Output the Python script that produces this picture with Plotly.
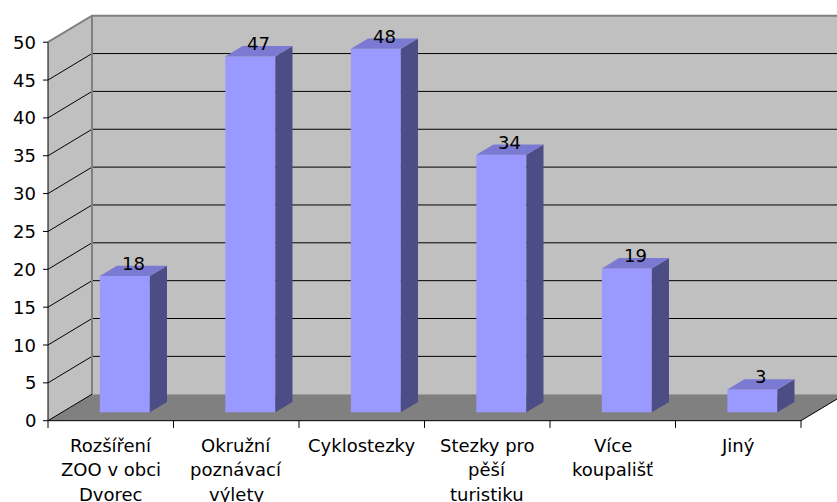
import plotly.graph_objects as go

# ---- data ----
categories = ["Rozšíření<br>ZOO v obci<br>Dvorec", "Okružní<br>poznávací<br>výlety", "Cyklostezky",
              "Stezky pro<br>pěší<br>turistiku", "Více<br>koupališť", "Jiný"]
values = [18, 47, 48, 34, 19, 3]
y_ticks = [0, 5, 10, 15, 20, 25, 30, 35, 40, 45, 50]
y_tick_labels = [str(t) for t in y_ticks]

# ---- pseudo-3D geometry (x in px, y in value units) ----
X0 = 48.0          # front-left corner of the floor
CAT_W = 125.5      # width of one category slot
DX = 44.0          # depth shift in x
DY = 3.5           # depth shift in value units
BAR_W = 50.0
D0, D1 = 0.32, 0.71
YMAX = 50
N = len(categories)
X_END = X0 + CAT_W * N
PX_PER_UNIT = 7.57
LINE_GAP = 24.5 / PX_PER_UNIT

WALL = "#C0C0C0"
FLOOR = "#808080"
FRONT = "#9999FF"
SIDE = "#4D4D85"
TOP = "#7A7AD2"
FONT = dict(family="DejaVu Sans", size=18, color="black")

fig = go.Figure()


def poly(xs, ys, color):
    fig.add_trace(go.Scatter(x=list(xs) + [xs[0]], y=list(ys) + [ys[0]], mode="lines",
                             fill="toself", fillcolor=color, line=dict(width=0),
                             hoverinfo="skip"))


def line(xs, ys, color="black", width=1):
    fig.add_trace(go.Scatter(x=xs, y=ys, mode="lines", line=dict(color=color, width=width),
                             hoverinfo="skip"))


# walls and floor
poly([X0 + DX, X_END + DX, X_END + DX, X0 + DX], [DY, DY, YMAX + DY, YMAX + DY], WALL)
poly([X0, X0, X0 + DX, X0 + DX], [0, YMAX, YMAX + DY, DY], WALL)
poly([X0, X_END, X_END + DX, X0 + DX], [0, 0, DY, DY], FLOOR)

# gridlines
gx, gy = [], []
for t in y_ticks[1:-1]:
    gx += [X0, X0 + DX, X_END + DX, None]
    gy += [t, t + DY, t + DY, None]
line(gx, gy, "black", 1)
# wall edges
line([X0, X0 + DX, X_END + DX], [YMAX, YMAX + DY, YMAX + DY], "#808080", 2)
line([X0 + DX, X0 + DX], [DY, YMAX + DY], "#808080", 2)
line([X0, X0 + DX], [0, DY], "black", 1)
line([X_END, X_END + DX], [0, DY], "black", 1)

# axes
line([X0, X0], [0, YMAX], "black", 1)
line([X0, X_END], [0, 0], "black", 1)
tx, ty = [], []
for t in y_ticks:
    tx += [X0 - 5, X0, None]
    ty += [t, t, None]
for k in range(N + 1):
    xk = X0 + CAT_W * k
    tx += [xk, xk, None]
    ty += [0, -0.95, None]
line(tx, ty, "black", 1)

# bars
sx = DX * (D1 - D0)
for k, v in enumerate(values):
    a = X0 + CAT_W * k + (CAT_W - BAR_W) / 2 + DX * D0
    b0, b1 = DY * D0, DY * D1
    poly([a, a + BAR_W, a + BAR_W, a], [b0, b0, v + b0, v + b0], FRONT)
    poly([a + BAR_W, a + BAR_W + sx, a + BAR_W + sx, a + BAR_W], [b0, b1, v + b1, v + b0], SIDE)
    poly([a, a + BAR_W, a + BAR_W + sx, a + sx], [v + b0, v + b0, v + b1, v + b1], TOP)
    fig.add_annotation(x=a + BAR_W / 2 + sx / 2, y=v + (b0 + b1) / 2, text=str(v),
                       showarrow=False, xanchor="center", yanchor="bottom", yshift=-5, font=FONT)

# tick labels
for t, lab in zip(y_ticks, y_tick_labels):
    fig.add_annotation(x=38, y=t, text=lab, showarrow=False, xanchor="right",
                       yanchor="middle", font=FONT)
for k, c in enumerate(categories):
    for i, part in enumerate(c.split("<br>")):
        fig.add_annotation(x=X0 + CAT_W * (k + 0.5), y=-1.6 - i * LINE_GAP, text=part,
                           showarrow=False, xanchor="center", yanchor="top", font=FONT)

fig.update_layout(
    width=837, height=502, margin=dict(l=0, r=0, t=0, b=0),
    paper_bgcolor="white", plot_bgcolor="white", showlegend=False,
    xaxis=dict(range=[0, 837], visible=False, fixedrange=True),
    yaxis=dict(range=[(420.7 - 502) / PX_PER_UNIT, 420.7 / PX_PER_UNIT], visible=False,
               fixedrange=True),
)
fig.write_html("out.html")
